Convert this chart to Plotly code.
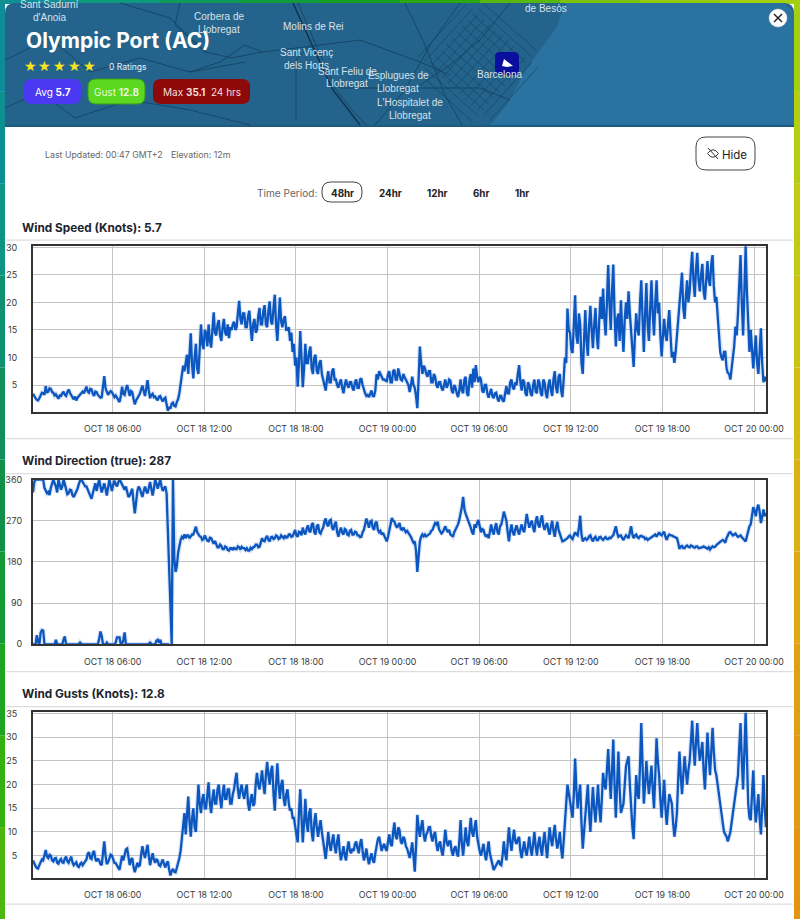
import numpy as np
import pandas as pd
import plotly.graph_objects as go

W, H = 800, 919
FONT = "Inter"
LINE_BLUE = "#0c57bf"

# === Chart data, one reading every 5 minutes (a row is one hour) ===
wind_speed = [
    3.4, 2.9, 2.6, 2.3, 2.2, 2.6, 3.0, 3.6, 3.5, 3.2, 4.8, 3.6,
    3.8, 4.4, 4.3, 3.7, 3.6, 3.0, 3.3, 2.8, 2.5, 3.1, 3.0, 3.5,
    3.8, 3.2, 3.0, 3.7, 4.2, 3.6, 3.2, 2.6, 2.4, 2.9, 2.2, 2.7,
    3.0, 3.3, 3.4, 3.8, 3.5, 4.2, 4.7, 3.8, 3.6, 4.3, 4.2, 3.4,
    3.0, 3.8, 3.7, 3.2, 3.0, 2.7, 2.8, 4.6, 6.6, 4.4, 3.6, 3.2,
    3.6, 3.9, 3.7, 3.2, 2.8, 3.1, 2.6, 2.3, 1.9, 3.0, 4.7, 3.4,
    3.2, 4.3, 5.0, 4.0, 3.0, 3.9, 3.7, 2.5, 1.5, 2.2, 2.6, 3.0,
    3.4, 4.2, 4.9, 3.9, 3.0, 4.4, 5.9, 4.0, 2.6, 3.2, 3.4, 2.8,
    2.9, 2.5, 2.2, 2.9, 3.0, 2.4, 2.0, 2.5, 2.7, 1.5, 0.3, 1.0,
    0.7, 1.6, 1.8, 1.2, 1.1, 1.9, 2.4, 3.5, 5.0, 6.8, 8.5, 7.5,
    9.5, 10.5, 7.0, 11.0, 14.4, 8.5, 6.2, 10.0, 12.5, 8.0, 7.0, 11.5,
    16.0, 12.5, 11.5, 15.0, 14.5, 12.0, 16.0, 13.0, 11.8, 15.0, 18.2, 14.5,
    14.0, 16.0, 16.8, 14.0, 13.0, 15.5, 17.0, 14.5, 14.0, 16.0, 13.5, 15.5,
    15.0, 16.0, 16.5, 15.0, 15.5, 18.0, 20.3, 17.0, 16.0, 18.0, 18.0, 15.5,
    15.5, 17.5, 18.5, 15.5, 13.0, 16.0, 17.0, 14.5, 15.0, 17.5, 19.0, 16.0,
    16.0, 18.5, 19.5, 16.0, 15.5, 18.5, 20.2, 16.5, 16.0, 19.0, 21.4, 16.0,
    13.0, 17.0, 20.9, 16.5, 15.5, 17.0, 17.5, 15.0, 15.0, 15.5, 13.0, 14.5,
    11.0, 12.5, 8.5, 10.0, 4.7, 9.0, 14.8, 10.0, 4.6, 8.0, 12.5, 9.0,
    9.0, 11.0, 12.0, 8.0, 7.0, 10.0, 10.5, 7.5, 7.0, 9.0, 9.5, 7.0,
    6.0, 5.0, 4.0, 6.0, 7.5, 5.5, 5.5, 7.5, 8.0, 6.0, 6.0, 5.0,
    4.5, 5.5, 6.0, 4.5, 3.5, 5.0, 6.0, 5.0, 4.5, 5.5, 5.5, 4.5,
    4.0, 5.5, 6.0, 4.5, 4.5, 6.0, 6.2, 5.0, 4.0, 3.5, 3.0, 3.2,
    2.8, 3.5, 4.0, 3.0, 3.0, 4.0, 7.0, 6.0, 7.5, 7.0, 6.5, 6.0,
    6.0, 5.8, 5.6, 7.0, 7.5, 5.5, 5.5, 7.5, 7.8, 6.0, 6.0, 8.0,
    7.2, 6.0, 5.8, 7.0, 6.4, 5.8, 5.5, 5.0, 3.7, 5.0, 6.5, 5.0,
    4.5, 3.0, 0.8, 6.0, 12.0, 9.0, 7.0, 8.5, 8.0, 7.0, 6.5, 7.5,
    7.5, 5.5, 5.5, 7.0, 6.5, 5.0, 4.5, 5.5, 5.5, 4.5, 4.0, 5.0,
    6.0, 4.5, 5.0, 6.0, 5.8, 4.0, 3.5, 5.0, 4.5, 3.5, 2.8, 4.0,
    6.0, 4.0, 3.5, 6.0, 6.5, 3.5, 3.0, 6.0, 7.0, 4.5, 8.0, 5.5,
    8.6, 6.5, 5.5, 6.5, 6.0, 4.0, 3.6, 5.0, 5.0, 3.5, 2.7, 3.5,
    4.3, 3.0, 2.6, 3.5, 3.6, 2.5, 2.0, 3.0, 3.0, 2.2, 2.0, 3.5,
    4.8, 3.5, 3.5, 5.5, 6.0, 4.5, 4.2, 5.5, 5.0, 7.0, 8.6, 5.5,
    4.0, 6.0, 5.5, 3.5, 3.0, 5.5, 5.0, 3.5, 3.0, 5.0, 6.0, 3.8,
    3.5, 6.0, 5.5, 3.5, 3.0, 6.0, 5.5, 3.5, 2.6, 5.0, 6.0, 4.0,
    3.0, 6.0, 7.5, 4.5, 3.5, 6.5, 7.0, 4.0, 2.8, 6.0, 10.0, 9.0,
    18.9, 15.0, 14.5, 11.5, 10.8, 16.0, 21.3, 14.0, 12.5, 18.0, 16.0, 9.0,
    7.0, 13.0, 18.6, 13.0, 10.3, 16.0, 19.4, 15.0, 11.7, 16.0, 19.0, 14.0,
    11.5, 17.0, 21.0, 17.0, 22.5, 17.0, 14.0, 20.0, 26.8, 20.0, 15.0, 22.0,
    26.9, 18.0, 12.0, 17.0, 18.0, 13.0, 20.4, 15.0, 11.0, 17.0, 20.0, 17.0,
    22.0, 18.0, 15.0, 11.0, 8.3, 14.0, 18.0, 15.0, 14.0, 20.0, 24.0, 17.0,
    11.0, 18.0, 23.5, 16.0, 13.0, 19.0, 24.0, 18.0, 14.0, 20.0, 24.0, 18.0,
    20.0, 14.0, 10.2, 14.0, 17.0, 14.0, 13.0, 16.0, 18.6, 14.0, 10.0, 11.0,
    9.0, 11.0, 14.0, 18.0, 21.0, 24.0, 25.4, 19.0, 17.0, 21.0, 24.0, 20.0,
    22.0, 26.0, 29.2, 24.0, 21.0, 26.0, 29.0, 24.0, 22.0, 25.0, 27.0, 22.0,
    20.5, 24.0, 27.5, 24.0, 23.0, 27.0, 28.6, 23.0, 20.0, 21.0, 18.0, 15.0,
    11.0, 10.0, 9.5, 11.0, 11.0, 8.0, 7.2, 7.0, 6.0, 8.0, 10.0, 12.0,
    15.6, 14.0, 18.0, 24.0, 28.6, 20.0, 14.0, 22.0, 30.2, 22.0, 15.0, 11.0,
    15.0, 11.0, 8.0, 11.0, 14.0, 9.0, 7.0, 11.0, 15.3, 9.0, 5.5, 6.5,
    5.7,
]

wind_direction = [
    332, 355, 360, 360, 360, 360, 360, 360, 360, 342, 336, 330,
    333, 326, 342, 350, 360, 352, 345, 332, 360, 350, 338, 345,
    360, 350, 340, 328, 330, 338, 337, 326, 322, 328, 332, 340,
    350, 358, 360, 355, 352, 345, 345, 338, 332, 325, 318, 330,
    345, 352, 335, 345, 360, 345, 332, 342, 352, 340, 325, 342,
    360, 348, 335, 348, 358, 350, 345, 354, 360, 355, 350, 344,
    338, 345, 330, 322, 325, 335, 340, 312, 286, 310, 335, 345,
    340, 330, 322, 335, 345, 335, 330, 342, 355, 340, 325, 340,
    360, 352, 340, 350, 360, 345, 335, 342, 345, 330, 240, 160,
    85, 0, 360, 190, 158, 170, 200, 215, 228, 235, 232, 240,
    232, 238, 238, 232, 235, 240, 240, 248, 257, 245, 240, 236,
    235, 228, 230, 238, 232, 226, 225, 233, 232, 224, 220, 226,
    218, 212, 212, 218, 215, 208, 208, 214, 212, 206, 205, 210,
    210, 206, 212, 208, 208, 214, 212, 207, 213, 210, 210, 206,
    210, 205, 205, 211, 208, 212, 213, 218, 218, 212, 213, 222,
    232, 226, 225, 233, 237, 228, 225, 234, 235, 230, 232, 238,
    236, 230, 232, 238, 235, 232, 238, 233, 234, 240, 240, 235,
    236, 244, 250, 238, 235, 246, 245, 238, 255, 245, 240, 252,
    260, 248, 245, 262, 265, 245, 240, 258, 262, 245, 242, 250,
    255, 268, 275, 262, 258, 270, 272, 255, 250, 262, 268, 245,
    235, 248, 255, 244, 240, 252, 250, 240, 238, 248, 250, 240,
    240, 246, 245, 238, 238, 234, 235, 245, 250, 262, 275, 265,
    255, 268, 270, 255, 250, 265, 268, 250, 245, 248, 240, 244,
    238, 232, 225, 235, 250, 268, 276, 270, 268, 260, 255, 260,
    265, 252, 250, 255, 250, 245, 248, 244, 240, 235, 228, 222,
    225, 205, 158, 200, 225, 235, 240, 236, 240, 236, 238, 242,
    242, 248, 250, 258, 265, 262, 268, 252, 248, 242, 245, 250,
    258, 250, 245, 250, 240, 238, 235, 245, 250, 258, 262, 272,
    285, 300, 322, 295, 285, 278, 270, 262, 255, 245, 240, 262,
    255, 265, 272, 258, 245, 252, 250, 240, 235, 240, 232, 245,
    262, 248, 240, 255, 265, 245, 240, 258, 262, 275, 290, 280,
    270, 245, 225, 248, 262, 245, 238, 252, 260, 248, 240, 252,
    262, 250, 245, 265, 285, 268, 255, 265, 270, 255, 245, 268,
    280, 262, 255, 272, 282, 260, 250, 260, 265, 248, 240, 258,
    270, 248, 235, 255, 268, 250, 240, 232, 225, 226, 228, 230,
    232, 236, 238, 233, 230, 238, 245, 240, 238, 255, 281, 240,
    225, 230, 232, 228, 230, 236, 238, 230, 225, 232, 235, 228,
    228, 234, 235, 230, 228, 232, 234, 230, 230, 233, 232, 236,
    238, 248, 258, 244, 235, 237, 238, 232, 228, 234, 238, 235,
    232, 245, 258, 240, 232, 238, 240, 234, 232, 236, 237, 235,
    235, 230, 232, 228, 230, 233, 234, 236, 238, 240, 235, 240,
    245, 240, 238, 243, 246, 235, 228, 236, 240, 238, 238, 236,
    234, 232, 232, 222, 208, 214, 215, 210, 210, 214, 216, 213,
    212, 216, 215, 212, 211, 214, 214, 210, 210, 212, 212, 214,
    212, 210, 209, 212, 207, 211, 214, 212, 213, 217, 220, 222,
    224, 226, 228, 226, 222, 232, 240, 244, 245, 240, 238, 240,
    242, 238, 235, 236, 238, 234, 232, 228, 225, 238, 250, 258,
    262, 285, 300, 292, 280, 298, 305, 290, 265, 278, 295, 280,
    287,
]

# readings that wrapped past north during the first nine hours
wind_direction_wrapped = [
    0, 0, 0, 20, 5, 0, 25, 31, 30, 0, 0, 0,
    0, 0, 0, 0, 0, 0, 10, 0, 0, 0, 0, 0,
    10, 17, 0, 0, 0, 0, 0, 0, 0, 0, 0, 0,
    0, 5, 0, 0, 0, 0, 0, 0, 0, 0, 0, 0,
    0, 0, 0, 0, 12, 28, 18, 0, 0, 0, 4, 0,
    0, 0, 0, 0, 0, 4, 15, 15, 15, 0, 0, 10,
    26, 0, 0, 0, 0, 0, 0, 0, 0, 0, 0, 0,
    0, 0, 0, 0, 0, 0, 0, 0, 5, 0, 0, 0,
    0, 8, 10, 3, 10, 0, 0, 0, 0, 0, 0, 0,
]

wind_gusts = [
    4.0, 3.2, 2.8, 2.4, 2.3, 3.0, 3.5, 4.2, 4.0, 5.0, 6.2, 4.8,
    4.5, 5.2, 5.0, 4.0, 3.8, 4.4, 4.5, 3.5, 3.3, 4.0, 4.3, 3.6,
    3.5, 4.4, 4.8, 3.8, 3.5, 4.2, 4.8, 3.6, 3.0, 3.3, 3.6, 2.8,
    2.6, 3.2, 3.5, 3.0, 3.3, 3.8, 4.2, 5.4, 5.7, 4.5, 4.3, 5.6,
    6.0, 4.3, 3.8, 4.4, 4.0, 3.2, 3.0, 5.2, 8.0, 5.0, 3.2, 3.6,
    4.5, 5.2, 5.0, 4.0, 3.5, 3.4, 3.0, 2.5, 2.0, 3.5, 5.0, 4.0,
    5.5, 6.3, 6.5, 4.5, 3.0, 4.2, 4.5, 2.6, 1.5, 2.5, 3.5, 2.8,
    3.0, 5.2, 7.0, 5.5, 4.5, 6.0, 7.3, 5.0, 3.0, 4.3, 5.5, 4.2,
    3.5, 4.2, 4.0, 3.0, 2.8, 3.6, 4.2, 3.2, 2.5, 3.4, 3.8, 2.0,
    0.8, 1.8, 2.2, 1.6, 1.5, 2.4, 3.2, 4.5, 6.0, 9.0, 12.0, 14.0,
    9.5, 13.0, 17.5, 12.0, 9.0, 13.0, 15.0, 11.0, 10.0, 15.0, 20.0, 16.0,
    14.0, 17.0, 18.0, 15.0, 15.0, 18.0, 20.5, 16.0, 14.0, 17.0, 19.0, 16.0,
    16.0, 19.0, 20.0, 17.0, 15.0, 18.0, 20.0, 17.0, 17.0, 19.0, 19.0, 16.0,
    16.0, 18.0, 19.0, 21.0, 22.5, 19.0, 17.0, 19.0, 20.0, 18.0, 17.0, 19.0,
    20.0, 16.0, 14.5, 17.0, 18.0, 15.5, 16.0, 20.0, 22.5, 20.0, 19.0, 21.0,
    23.0, 20.0, 18.0, 22.0, 24.8, 22.0, 20.0, 23.0, 24.0, 18.0, 14.5, 20.0,
    24.5, 20.0, 17.0, 20.0, 21.0, 17.0, 15.5, 18.0, 19.0, 16.0, 14.5, 15.0,
    13.0, 13.0, 11.0, 9.0, 7.8, 14.0, 19.0, 13.0, 7.8, 12.0, 17.0, 12.0,
    10.0, 14.0, 15.0, 10.0, 8.0, 12.0, 14.0, 11.0, 9.0, 11.0, 12.5, 10.0,
    8.0, 5.5, 4.3, 7.0, 10.0, 7.5, 6.0, 8.0, 9.5, 7.0, 5.5, 8.0,
    9.5, 6.0, 4.0, 5.5, 7.0, 5.0, 4.0, 6.5, 8.0, 6.0, 5.5, 6.5,
    6.0, 7.5, 8.0, 6.5, 5.5, 7.5, 8.5, 6.0, 4.0, 5.0, 6.5, 4.5,
    3.2, 4.5, 5.5, 4.0, 3.5, 5.5, 7.0, 8.5, 9.0, 7.0, 6.0, 7.0,
    7.5, 6.5, 6.0, 8.0, 9.5, 7.5, 7.0, 10.0, 12.0, 9.0, 8.5, 11.0,
    10.4, 8.0, 7.5, 9.0, 8.5, 7.0, 6.5, 5.5, 4.5, 6.0, 7.8, 5.0,
    1.6, 7.0, 13.6, 11.0, 9.0, 11.0, 12.5, 9.5, 8.0, 9.5, 10.0, 11.0,
    11.0, 9.0, 8.0, 9.5, 10.0, 7.5, 6.0, 7.5, 8.0, 6.0, 5.0, 7.5,
    10.5, 8.0, 7.0, 8.0, 8.0, 6.0, 5.0, 6.5, 7.0, 5.5, 4.8, 8.0,
    12.5, 7.5, 5.0, 8.0, 11.0, 8.0, 7.0, 10.0, 13.0, 10.0, 9.0, 11.0,
    12.5, 9.0, 7.0, 6.0, 5.0, 6.0, 7.5, 5.5, 4.0, 6.0, 8.0, 5.5,
    4.5, 3.0, 2.0, 2.5, 3.0, 3.5, 4.0, 3.2, 3.0, 5.0, 8.0, 5.5,
    4.0, 7.5, 11.0, 8.0, 6.0, 8.5, 10.5, 8.0, 7.5, 8.5, 9.0, 6.0,
    4.5, 6.5, 8.0, 6.0, 5.0, 7.0, 9.0, 6.5, 5.0, 7.5, 10.0, 7.0,
    5.0, 7.5, 9.0, 6.5, 5.0, 8.0, 10.0, 7.0, 4.5, 8.0, 11.0, 8.5,
    7.0, 9.5, 11.5, 8.5, 6.5, 8.0, 10.0, 6.5, 4.4, 8.0, 13.0, 16.0,
    20.0, 18.0, 16.5, 14.0, 13.0, 18.0, 25.5, 19.0, 15.0, 18.0, 20.0, 12.0,
    6.5, 10.0, 14.0, 17.0, 20.0, 14.0, 10.0, 15.0, 19.5, 15.0, 12.0, 16.0,
    20.0, 15.0, 12.0, 17.0, 22.5, 20.0, 19.0, 23.0, 27.5, 22.0, 17.0, 23.0,
    29.5, 20.0, 13.0, 20.0, 27.0, 19.0, 14.0, 15.0, 16.0, 20.0, 24.0, 25.0,
    26.0, 20.0, 15.0, 11.0, 8.5, 15.0, 22.0, 18.0, 17.0, 24.0, 33.0, 24.0,
    16.0, 20.0, 25.0, 21.0, 18.0, 21.0, 24.0, 19.0, 15.0, 22.0, 29.8, 25.0,
    22.0, 17.0, 13.0, 17.0, 21.0, 15.0, 11.5, 15.0, 18.0, 17.0, 16.0, 12.0,
    9.0, 11.0, 14.0, 21.0, 27.0, 22.0, 18.0, 22.0, 26.0, 23.0, 20.0, 23.0,
    25.0, 29.0, 33.5, 28.0, 24.0, 29.0, 33.0, 28.0, 25.0, 27.0, 29.0, 23.0,
    19.0, 25.0, 31.0, 26.0, 22.0, 27.0, 32.0, 27.0, 23.0, 22.0, 20.0, 17.0,
    15.0, 13.0, 11.0, 10.0, 9.5, 9.0, 8.0, 9.0, 10.0, 12.0, 14.0, 16.0,
    18.0, 20.0, 22.0, 28.0, 33.0, 25.0, 19.0, 27.0, 35.2, 26.0, 16.0, 13.0,
    12.5, 18.0, 23.0, 16.0, 12.0, 15.0, 18.0, 13.0, 9.5, 15.0, 22.0, 15.0,
    11.0,
]

x_ticks = ["2024-10-18 06:00", "2024-10-18 12:00", "2024-10-18 18:00", "2024-10-19 00:00",
           "2024-10-19 06:00", "2024-10-19 12:00", "2024-10-19 18:00", "2024-10-20 00:00"]
x_tick_labels = ["OCT 18 06:00", "OCT 18 12:00", "OCT 18 18:00", "OCT 19 00:00",
                 "OCT 19 06:00", "OCT 19 12:00", "OCT 19 18:00", "OCT 20 00:00"]
x_start, x_end = "2024-10-18 00:47", "2024-10-20 00:47"

speed_ticks = [5, 10, 15, 20, 25, 30]
direction_ticks = [0, 90, 180, 270, 360]
gust_ticks = [5, 10, 15, 20, 25, 30, 35]

times = pd.date_range(x_start, x_end, periods=len(wind_speed))


# === Pixel helpers for the page furniture ===
def fx(x):
    return x / W


def fy(y):
    return 1 - y / H


def line_path(points, close=False):
    d = " ".join(f"{'M' if i == 0 else 'L'} {fx(x):.5f} {fy(y):.5f}" for i, (x, y) in enumerate(points))
    return d + (" Z" if close else "")


def round_rect_path(x0, y0, x1, y1, r):
    return (f"M {fx(x0 + r):.5f} {fy(y0):.5f} L {fx(x1 - r):.5f} {fy(y0):.5f} "
            f"Q {fx(x1):.5f} {fy(y0):.5f} {fx(x1):.5f} {fy(y0 + r):.5f} "
            f"L {fx(x1):.5f} {fy(y1 - r):.5f} Q {fx(x1):.5f} {fy(y1):.5f} {fx(x1 - r):.5f} {fy(y1):.5f} "
            f"L {fx(x0 + r):.5f} {fy(y1):.5f} Q {fx(x0):.5f} {fy(y1):.5f} {fx(x0):.5f} {fy(y1 - r):.5f} "
            f"L {fx(x0):.5f} {fy(y0 + r):.5f} Q {fx(x0):.5f} {fy(y0):.5f} {fx(x0 + r):.5f} {fy(y0):.5f} Z")


shapes = []
annotations = []


def add_path(d, fill=None, color=None, width=0, layer="below"):
    shapes.append(dict(type="path", path=d, xref="paper", yref="paper", layer=layer,
                       fillcolor=fill if fill else "rgba(0,0,0,0)",
                       line=dict(color=color if color else "rgba(0,0,0,0)", width=width)))


def add_rect(x0, y0, x1, y1, fill):
    shapes.append(dict(type="rect", xref="paper", yref="paper", x0=fx(x0), x1=fx(x1), y0=fy(y1), y1=fy(y0),
                       fillcolor=fill, line=dict(width=0), layer="below"))


def add_text(x, y, text, size=10, color="#333333", anchor="center", family=FONT):
    annotations.append(dict(x=fx(x), y=fy(y), xref="paper", yref="paper", text=text, showarrow=False,
                            xanchor=anchor, yanchor="middle", borderpad=0,
                            font=dict(size=size, color=color, family=family)))


# === Weather map showing around the panel ===
left_strip = ["#0d8d9a", "#0d9190", "#0e9483", "#0e9170", "#0f8f5c", "#109048", "#129a34", "#1ea51f", "#35b212", "#4cb80f"]
right_strip = ["#a4cf10", "#b4cf0f", "#c2cc0e", "#cdc50d", "#d6bc0e", "#dbb20f", "#dfa80f", "#e1a010", "#e29a10", "#e39510"]
top_strip = ["#0d8f94", "#0e9a7c", "#0e9a5c", "#109c3a", "#159f22", "#2aa814", "#57b610", "#7cc20f", "#93c90f", "#a4cf10"]
for i, c in enumerate(left_strip):
    add_rect(0, i * H / 10, 5, (i + 1) * H / 10, c)
for i, c in enumerate(right_strip):
    add_rect(794, i * H / 10, W, (i + 1) * H / 10, c)
for i, c in enumerate(top_strip):
    add_rect(i * W / 10, 0, (i + 1) * W / 10, 4, c)

# === Header panel ===
add_path(round_rect_path(5, 3, 794, 160, 10), fill="#24648c")
add_rect(5, 126, 794, 165, "#ffffff")
add_rect(5, 125, 794, 127, "#1c5a80")
coast = [(566, 3), (556, 28), (540, 50), (526, 70), (516, 88), (507, 105), (490, 125), (794, 125), (794, 12), (784, 3)]
add_path(line_path(coast, close=True), fill="#2a72a0")

roads = [
    [(293, 3), (312, 45), (333, 90), (347, 108), (360, 125)],
    [(298, 3), (316, 45), (336, 90), (352, 110), (366, 125)],
    [(5, 60), (50, 38), (90, 72), (140, 58), (190, 72), (245, 62)],
    [(5, 108), (40, 92), (75, 118), (130, 100), (190, 110), (250, 125)],
    [(120, 3), (170, 18), (205, 52), (232, 58), (262, 52), (296, 48)],
    [(190, 72), (220, 62), (245, 45), (262, 52)],
    [(180, 3), (175, 25), (205, 52)],
    [(296, 48), (360, 40), (420, 62), (450, 75)],
    [(296, 120), (296, 60), (310, 45)],
    [(405, 3), (425, 45), (445, 95), (462, 125)],
    [(460, 3), (430, 45), (405, 90), (375, 125)],
    [(340, 88), (420, 88), (480, 88), (510, 100)],
    [(510, 3), (480, 40), (450, 65), (420, 85)],
]
for r in roads:
    add_path(line_path(r), color="#123f60", width=0.8)
add_path(line_path(roads[0]), color="#0f3350", width=1.4)

# Barcelona street grid
for off in np.arange(-48, 49, 8):
    for dx, dy in [(0.67, -0.74), (0.74, 0.67)]:
        cx, cy = 478 - dy * off, 62 + dx * off
        x0, y0 = cx - dx * 36, np.clip(cy - dy * 36, 4, 124)
        x1, y1 = cx + dx * 36, np.clip(cy + dy * 36, 4, 124)
        add_path(line_path([(x0, y0), (x1, y1)]), color="#143f60", width=0.6)

map_labels = [
    (49, 5, "Sant Sadurní"), (49, 17, "d'Anoia"), (219, 16.5, "Corbera de"), (219, 29, "Llobregat"),
    (313, 27, "Molins de Rei"), (306, 52, "Sant Vicenç"), (306, 65, "dels Horts"),
    (347, 71, "Sant Feliu de"), (347, 83, "Llobregat"), (398, 76, "Esplugues de"), (398, 89, "Llobregat"),
    (410, 103, "L'Hospitalet de"), (410, 116, "Llobregat"), (499, 74, "Barcelona"), (546, 8, "de Besòs"),
]
for x, y, t in map_labels:
    add_text(x, y, t, size=10, color="#d5e2ea", family="Liberation Sans")

add_text(24.5, 41, "<b>Olympic Port (AC)</b>", size=21, color="#ffffff", anchor="left")
for x in [30, 44.7, 59.5, 74.5, 89.5]:
    add_text(x, 66, "★", size=14, color="#f7e51c", family="DejaVu Sans")
add_text(108, 67, "0 Ratings", size=8.5, color="#e6eef3", anchor="left")

add_path(round_rect_path(24, 79, 81, 104, 8), fill="#4a38f2")
add_text(52.5, 92, "Avg <b>5.7</b>", size=10, color="#ffffff")
add_path(round_rect_path(88, 79, 145, 104, 8), fill="#5bd81f", color="#3d9a1a", width=1)
add_text(116.5, 92, "Gust <b>12.8</b>", size=10, color="#e8f8dc")
add_path(round_rect_path(153, 79, 250, 104, 8), fill="#8e0a0a")
add_text(201.5, 92, "Max <b>35.1</b>  24 hrs", size=10, color="#f5dede")

# station marker and close button
add_path(round_rect_path(495, 52, 519, 75, 5), fill="#0a0f9e", layer="above")
add_path(line_path([(504, 59), (513, 66), (507, 67), (502, 66)], close=True), fill="#ffffff", layer="above")
shapes.append(dict(type="circle", xref="paper", yref="paper", x0=fx(769), x1=fx(787), y0=fy(27), y1=fy(9),
                   fillcolor="#ffffff", line=dict(color="#dddddd", width=0.5), layer="above"))
add_path(line_path([(774, 14), (782, 22)]), color="#222222", width=1.4, layer="above")
add_path(line_path([(782, 14), (774, 22)]), color="#222222", width=1.4, layer="above")

# === Controls ===
add_text(44, 154.5, "Last Updated: 00:47 GMT+2", size=8.8, color="#666666", anchor="left")
add_text(170, 154.5, "Elevation: 12m", size=8.8, color="#666666", anchor="left")
add_path(round_rect_path(696, 137, 755, 170, 10), color="#444444", width=1)
add_text(721, 154.5, "Hide", size=11.5, color="#222222", anchor="left")
add_path(f"M {fx(707.5):.5f} {fy(153.5):.5f} Q {fx(713):.5f} {fy(146):.5f} {fx(718.5):.5f} {fy(153.5):.5f} "
         f"Q {fx(713):.5f} {fy(161):.5f} {fx(707.5):.5f} {fy(153.5):.5f} Z", color="#333333", width=1)
add_path(line_path([(708, 148), (718, 159)]), color="#333333", width=1)

add_text(256, 193, "Time Period:", size=10.1, color="#666666", anchor="left")
add_path(round_rect_path(322, 182, 362, 202, 9), color="#444444", width=1)
for x, t in [(342, "48hr"), (390, "24hr"), (437, "12hr"), (481, "6hr"), (522, "1hr")]:
    add_text(x, 193, f"<b>{t}</b>", size=9.8, color="#222222")

# === Section headings and rules ===
add_text(20.5, 227.5, "<b>Wind Speed (Knots): 5.7</b>", size=11.8, color="#1c2430", anchor="left")
add_text(20.5, 460.5, "<b>Wind Direction (true): 287</b>", size=11.8, color="#1c2430", anchor="left")
add_text(20.5, 693.5, "<b>Wind Gusts (Knots): 12.8</b>", size=11.8, color="#1c2430", anchor="left")
for y in [240, 438.5, 473.5, 671.5, 706.5, 904]:
    add_rect(6, y - 0.5, 793, y + 0.8, "#dddddd")

# === Charts ===
PLOT_X0, PLOT_X1 = 33, 766
panels = [
    dict(top=246, bottom=411.7, yrange=[0.15, 30.25], ticks=speed_ticks, standoff=12),
    dict(top=479.6, bottom=644.3, yrange=[0, 360], ticks=direction_ticks, standoff=7),
    dict(top=712.4, bottom=877.7, yrange=[0.35, 35.25], ticks=gust_ticks, standoff=12),
]

fig = go.Figure()


def add_series(x, y, n):
    # pale halo under the line, like the soft shadow on the site
    fig.add_trace(go.Scatter(x=x, y=y, mode="lines", xaxis=f"x{n}", yaxis=f"y{n}", hoverinfo="skip",
                             showlegend=False, line=dict(color="rgba(110,150,220,0.25)", width=4.5)))
    fig.add_trace(go.Scatter(x=x, y=y, mode="lines", xaxis=f"x{n}", yaxis=f"y{n}",
                             showlegend=False, line=dict(color=LINE_BLUE, width=2.3)))


add_series(times, wind_speed, 1)
add_series(times, wind_direction, 2)
add_series(times[:len(wind_direction_wrapped)], wind_direction_wrapped, 2)
add_series(times, wind_gusts, 3)

layout_axes = {}
for i, p in enumerate(panels, start=1):
    layout_axes[f"xaxis{i}"] = dict(
        domain=[fx(PLOT_X0), fx(PLOT_X1)], anchor=f"y{i}", type="date", range=[x_start, x_end],
        tickmode="array", tickvals=x_ticks, ticktext=x_tick_labels, tickangle=0,
        ticks="outside", ticklen=8, tickcolor="rgba(0,0,0,0)",
        tickfont=dict(family=FONT, size=8.8, color="#3a3a3a"),
        showgrid=True, gridcolor="#c4c4c4", gridwidth=1.2, zeroline=False,
        showline=True, mirror=True, linecolor="#333333", linewidth=2,
    )
    layout_axes[f"yaxis{i}"] = dict(
        domain=[fy(p["bottom"]), fy(p["top"])], anchor=f"x{i}", range=p["yrange"],
        tickmode="array", tickvals=p["ticks"],
        ticks="outside", ticklen=p["standoff"], tickcolor="rgba(0,0,0,0)",
        tickfont=dict(family=FONT, size=9, color="#3a3a3a"),
        showgrid=True, gridcolor="#c4c4c4", gridwidth=1.2, zeroline=False,
        showline=True, mirror=True, linecolor="#333333", linewidth=2,
    )

fig.update_layout(
    width=W, height=H,
    margin=dict(l=0, r=0, t=0, b=0, autoexpand=False),
    paper_bgcolor="#ffffff", plot_bgcolor="rgba(0,0,0,0)",
    showlegend=False,
    font=dict(family=FONT),
    shapes=shapes, annotations=annotations,
    **layout_axes,
)

fig.write_html("out.html", config=dict(displayModeBar=False),
               post_script="document.body.style.margin='0';document.body.style.overflow='hidden';")
